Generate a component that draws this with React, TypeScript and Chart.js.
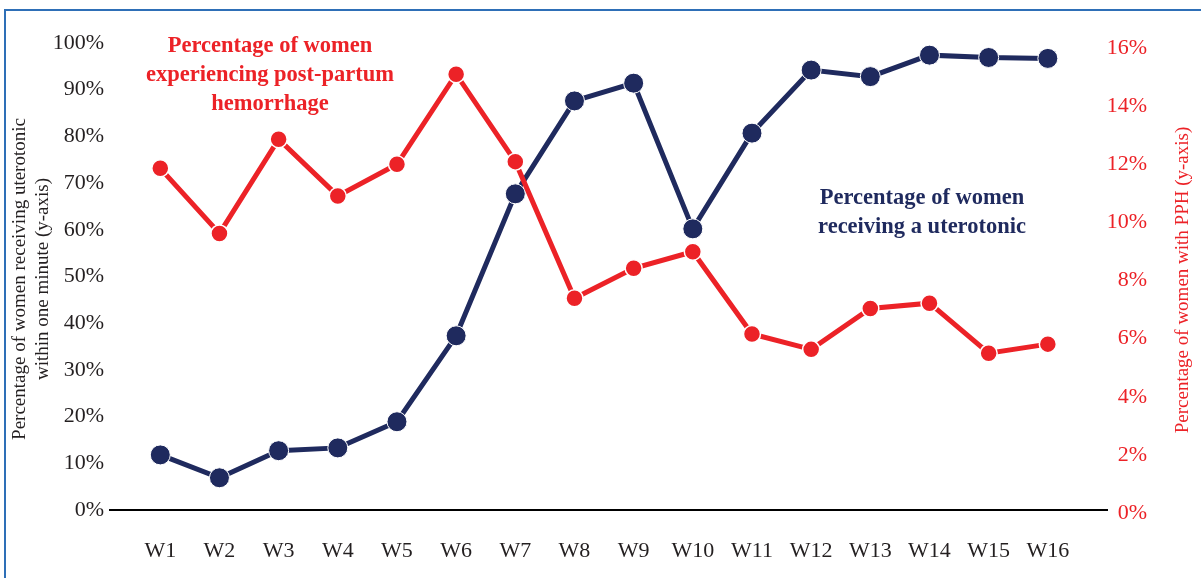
import React, { useEffect, useRef } from "react";
import { Chart, registerables } from "chart.js";

Chart.register(...registerables);

// Weekly categories
const weeks = ["W1", "W2", "W3", "W4", "W5", "W6", "W7", "W8", "W9", "W10", "W11", "W12", "W13", "W14", "W15", "W16"];

// Percentage of women receiving a uterotonic within one minute (left axis)
const uterotonicPct = [11.8, 6.9, 12.7, 13.3, 18.9, 37.3, 67.7, 87.6, 91.4, 60.2, 80.7, 94.2, 92.8, 97.4, 96.9, 96.7];

// Percentage of women experiencing post-partum hemorrhage (right axis)
const pphPct = [11.86, 9.62, 12.86, 10.91, 12.0, 15.1, 12.09, 7.39, 8.42, 8.99, 6.16, 5.63, 7.04, 7.22, 5.5, 5.81];

// Tick values for both vertical axes
const leftTicks = [0, 10, 20, 30, 40, 50, 60, 70, 80, 90, 100];
const rightTicks = [0, 2, 4, 6, 8, 10, 12, 14, 16];

const NAVY = "#1f2a5e";
const RED = "#ec2227";
const INK = "#231f20";
const SERIF = "'Liberation Serif', 'Times New Roman', serif";

const overlayText = {
  id: "overlayText",
  afterDraw(chart: any) {
    const { ctx } = chart;
    ctx.save();
    ctx.textBaseline = "middle";

    // Series captions inside the plot
    ctx.textAlign = "center";
    ctx.font = `bold 22.5px ${SERIF}`;
    ctx.fillStyle = RED;
    ["Percentage of women", "experiencing post-partum", "hemorrhage"].forEach((t, i) => {
      ctx.fillText(t, 270, 46 + i * 29);
    });
    ctx.fillStyle = NAVY;
    ["Percentage of women", "receiving a uterotonic"].forEach((t, i) => {
      ctx.fillText(t, 922, 198 + i * 29);
    });

    // Axis titles, both reading bottom to top
    ctx.font = `19px ${SERIF}`;
    ctx.fillStyle = INK;
    ["Percentage of women receiving uterotonic", "within one minute (y-axis)"].forEach((t, i) => {
      ctx.save();
      ctx.translate(20 + i * 23, 279);
      ctx.rotate(-Math.PI / 2);
      ctx.fillText(t, 0, 0);
      ctx.restore();
    });
    ctx.fillStyle = RED;
    ctx.save();
    ctx.translate(1183, 280);
    ctx.rotate(-Math.PI / 2);
    ctx.fillText("Percentage of women with PPH (y-axis)", 0, 0);
    ctx.restore();

    ctx.restore();
  },
};

export default function App() {
  const canvasRef = useRef<HTMLCanvasElement | null>(null);

  useEffect(() => {
    if (!canvasRef.current) return;
    const chart = new Chart(canvasRef.current, {
      type: "line",
      data: {
        datasets: [
          {
            label: "PPH",
            data: pphPct.map((v, i) => ({ x: i + 1, y: v })),
            yAxisID: "yRight",
            borderColor: RED,
            backgroundColor: RED,
            borderWidth: 5,
            pointRadius: 8.5,
            pointBackgroundColor: RED,
            pointBorderColor: "#ffffff",
            pointBorderWidth: 1.5,
            tension: 0,
            clip: false as any,
          },
          {
            label: "Uterotonic",
            data: uterotonicPct.map((v, i) => ({ x: i + 1, y: v })),
            yAxisID: "yLeft",
            borderColor: NAVY,
            backgroundColor: NAVY,
            borderWidth: 5,
            pointRadius: 10,
            pointBackgroundColor: NAVY,
            pointBorderColor: "#ffffff",
            pointBorderWidth: 1,
            tension: 0,
            clip: false as any,
          },
        ],
      },
      options: {
        animation: false,
        responsive: false,
        devicePixelRatio: 1,
        layout: { padding: { top: 43, left: 0, right: 54, bottom: 0 } },
        plugins: {
          legend: { display: false },
          tooltip: { enabled: false },
        },
        scales: {
          x: {
            type: "linear",
            min: 0.15,
            max: 17.0,
            grid: { display: false, drawTicks: false },
            border: { display: true, color: "#000000", width: 2 },
            afterBuildTicks: (axis: any) => {
              axis.ticks = weeks.map((_, i) => ({ value: i + 1 }));
            },
            afterFit: (s: any) => {
              s.height = 68;
            },
            ticks: {
              autoSkip: false,
              maxRotation: 0,
              padding: 28,
              color: INK,
              font: { family: SERIF, size: 22 },
              callback: (v: any) => weeks[Math.round(Number(v)) - 1] ?? "",
            },
          },
          yLeft: {
            type: "linear",
            position: "left",
            min: 0,
            max: 100,
            grid: { display: false, drawTicks: false },
            border: { display: false },
            afterBuildTicks: (axis: any) => {
              axis.ticks = leftTicks.map((v) => ({ value: v }));
            },
            afterFit: (s: any) => {
              s.width = 110;
            },
            ticks: {
              padding: 6,
              color: INK,
              font: { family: SERIF, size: 22 },
              callback: (v: any) => `${v}%`,
            },
          },
          yRight: {
            type: "linear",
            position: "right",
            min: 0.103,
            max: 16.172,
            grid: { display: false, drawTicks: false },
            border: { display: false },
            afterBuildTicks: (axis: any) => {
              axis.ticks = rightTicks.map((v) => ({ value: v }));
            },
            afterFit: (s: any) => {
              s.width = 40;
            },
            ticks: {
              padding: 1,
              crossAlign: "far",
              color: RED,
              font: { family: SERIF, size: 22 },
              callback: (v: any) => `${v}%`,
            },
          },
        },
      },
      plugins: [overlayText],
    });
    return () => chart.destroy();
  }, []);

  return (
    <div
      style={{
        position: "fixed",
        left: 0,
        top: 0,
        width: 1201,
        height: 578,
        overflow: "hidden",
        background: "#ffffff",
      }}
    >
      <div
        style={{
          position: "absolute",
          left: 4,
          top: 9,
          width: 1400,
          height: 800,
          border: "2px solid #2e6fb7",
        }}
      />
      <canvas
        ref={canvasRef}
        width={1201}
        height={578}
        style={{ position: "absolute", left: 0, top: 0, display: "block" }}
      />
    </div>
  );
}
